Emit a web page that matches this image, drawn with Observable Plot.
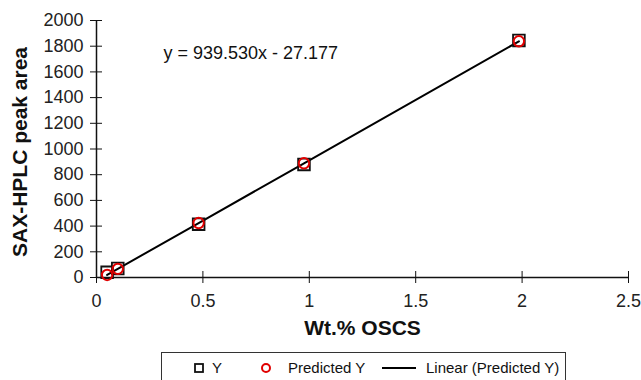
<!DOCTYPE html>
<html>
<head>
<meta charset="utf-8">
<script src="https://cdn.jsdelivr.net/npm/d3@7"></script>
<script src="https://cdn.jsdelivr.net/npm/@observablehq/plot@0.6"></script>
<style>
  html, body { margin: 0; padding: 0; background: #fff; }
  #wrap { position: relative; width: 641px; height: 380px; overflow: hidden; font-family: "Liberation Sans", Arial, sans-serif; }
  #legend { position: absolute; left: 161px; top: 352px; width: 405px; height: 40px; border: 1px solid #333; box-sizing: border-box; font-size: 15px; color: #111; }
  #legend .item { position: absolute; top: 6px; display: flex; align-items: center; white-space: nowrap; }
  #legend svg { display: block; }
</style>
</head>
<body>
<div id="wrap">
  <div id="chart"></div>
  <div id="legend"></div>
</div>
<script>
// Data
const wtPercent = [0.05, 0.1, 0.48, 0.975, 1.985];
const peakAreaY = [40, 70, 415, 880, 1845];
const predictedY = [20, 67, 424, 889, 1838];
const xTicks = [0, 0.5, 1, 1.5, 2, 2.5];
const yTicks = [0, 200, 400, 600, 800, 1000, 1200, 1400, 1600, 1800, 2000];
const equationText = "y = 939.530x - 27.177";
const xTitle = "Wt.% OSCS";
const yTitle = "SAX-HPLC peak area";
const legendLabels = ["Y", "Predicted Y", "Linear (Predicted Y)"];

const rows = wtPercent.map((x, i) => ({x, y: peakAreaY[i], p: predictedY[i]}));
const font = "Liberation Sans, Arial, sans-serif";
const fmt = d => `${d}`;

const chart = Plot.plot({
  width: 641,
  height: 350,
  marginLeft: 96,
  marginRight: 13,
  marginTop: 20,
  marginBottom: 73,
  style: {fontFamily: font, fontSize: "18px", color: "#111", background: "#fff"},
  x: {domain: [0, 2.5]},
  y: {domain: [0, 2000]},
  marks: [
    Plot.ruleX([0], {stroke: "#111", strokeWidth: 1.5}),
    Plot.ruleY([0], {stroke: "#111", strokeWidth: 1.5}),
    Plot.axisY(yTicks, {anchor: "left", tickSize: 6, text: null, tickFormat: null, label: null, stroke: "#111"}),
    Plot.axisY(yTicks, {anchor: "left", tickSize: -6, text: null, tickFormat: null, label: null, stroke: "#111"}),
    Plot.axisX(xTicks, {anchor: "bottom", tickSize: 6, text: null, tickFormat: null, label: null, stroke: "#111"}),
    Plot.axisX(xTicks, {anchor: "bottom", tickSize: -6, text: null, tickFormat: null, label: null, stroke: "#111"}),
    Plot.text(yTicks, {x: 0, y: d => d, text: fmt, dx: -13, textAnchor: "end", lineAnchor: "middle", fontSize: 18, fill: "#222"}),
    Plot.text(xTicks, {x: d => d, y: 0, text: fmt, dy: 24, textAnchor: "middle", lineAnchor: "middle", fontSize: 18, fill: "#222"}),
    Plot.line(rows, {x: "x", y: "p", stroke: "#000", strokeWidth: 2}),
    Plot.dot(rows, {x: "x", y: "y", symbol: "square", r: 6.6, stroke: "#111", strokeWidth: 1.8, fill: "none"}),
    Plot.dot(rows, {x: "x", y: "p", symbol: "circle", r: 5.2, stroke: "#e00000", strokeWidth: 2, fill: "none"}),
    Plot.text([equationText], {frameAnchor: "top-left", dx: 67, dy: 33, textAnchor: "start", lineAnchor: "middle", fontSize: 18, fill: "#111"}),
    Plot.text([xTitle], {frameAnchor: "bottom", dy: 51, lineAnchor: "middle", fontSize: 21, fontWeight: "bold", fill: "#111"}),
    Plot.text([yTitle], {frameAnchor: "left", dx: -76, dy: 3, rotate: -90, lineAnchor: "middle", textAnchor: "middle", fontSize: 21, fontWeight: "bold", fill: "#111"})
  ]
});
document.getElementById("chart").appendChild(chart);

// Legend below the chart
const legend = document.getElementById("legend");
const items = [
  {left: 30, label: legendLabels[0], icon: `<svg width="14" height="14"><rect x="3" y="3" width="8" height="8" fill="none" stroke="#111" stroke-width="1.8"/></svg>`, gap: 6},
  {left: 97, label: legendLabels[1], icon: `<svg width="14" height="14"><circle cx="7" cy="7" r="4" fill="none" stroke="#e00000" stroke-width="2"/></svg>`, gap: 15},
  {left: 220, label: legendLabels[2], icon: `<svg width="36" height="14"><line x1="0" y1="7" x2="34" y2="7" stroke="#000" stroke-width="2"/></svg>`, gap: 8}
];
for (const it of items) {
  const d = document.createElement("div");
  d.className = "item";
  d.style.left = it.left + "px";
  d.innerHTML = it.icon + `<span style="margin-left:${it.gap}px">${it.label}</span>`;
  legend.appendChild(d);
}
</script>
</body>
</html>
